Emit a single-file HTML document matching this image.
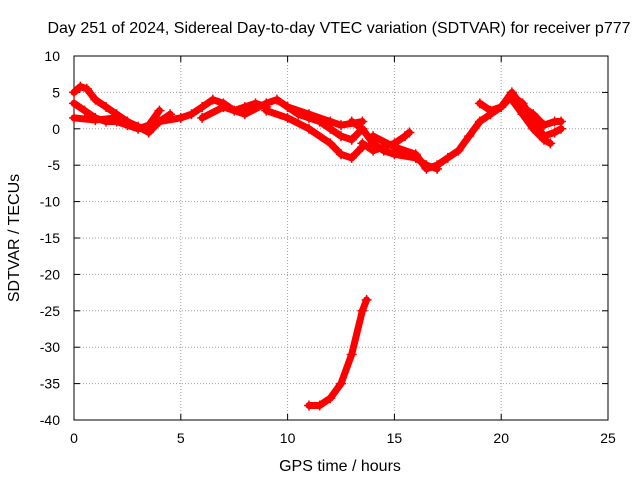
<!DOCTYPE html>
<html><head><meta charset="utf-8"><style>
body{margin:0;background:#fff}
text{font-family:"Liberation Sans",sans-serif;font-size:14px;fill:#000}
text.big{font-size:16px}
</style></head><body>
<svg id="chart" width="640" height="480">
<rect width="640" height="480" fill="#fff"/>
<g id="grid"></g>
<rect x="74" y="56" width="534" height="364" fill="none" stroke="#000" stroke-width="1"/>
<g id="axes"></g>
<g id="series"></g>
<text class="big" x="339" y="33" text-anchor="middle">Day 251 of 2024, Sidereal Day-to-day VTEC variation (SDTVAR) for receiver p777</text>
<text class="big" x="340" y="471" text-anchor="middle">GPS time / hours</text>
<text class="big" transform="translate(19,238) rotate(-90)" text-anchor="middle">SDTVAR / TECUs</text>
</svg>
<script>
const xTicks=[0,5,10,15,20,25];
const yTicks=[10,5,0,-5,-10,-15,-20,-25,-30,-35,-40];
const s1=[[0,5],[0.3,5.8],[0.6,5.5],[1,4],[1.5,3],[2,2],[2.5,1],[3,0.3],[3.5,-0.5],[4,1],[4.5,2]];
const s2=[[0,3.5],[0.5,2.5],[1,1.5],[1.5,1],[2,1],[2.5,0.5],[3,0],[3.5,0.5],[4,2.5]];
const s3=[[0,1.5],[1,1.2],[2,1.5]];
const s4=[[4,1],[5,1.5],[5.5,2],[6,3],[6.5,4],[7,3.5],[7.5,2.5],[8,3],[8.5,3.5],[9,3]];
const s5=[[6,1.5],[7,3],[8,2],[9,3.5],[9.5,4],[10,3],[10.5,2],[11,1.5],[11.5,1],[12,0],[12.5,-1],[13,-1.5],[13.5,0]];
const s6=[[9,2.5],[10,1.5],[11,0],[12,-2],[12.5,-3.5],[13,-4],[13.5,-2.5]];
const s7=[[10,3],[11,2],[12,1],[12.5,0.5],[13.5,1]];
const s8=[[13,1],[13.5,0],[14,-2],[14.5,-3],[15,-3.5],[16,-4],[16.5,-5],[17,-5.5]];
const s9=[[13.5,-2],[14,-3],[15,-2],[15.5,-1],[15.7,-0.5]];
const s10=[[14,-1],[15,-2.5],[16,-3.5],[16.5,-5.5],[17,-5],[17.5,-4],[18,-3],[18.5,-1],[19,1],[19.5,2],[20,3],[20.5,4.5],[21,3.5],[21.5,1],[22,-1],[22.5,-0.5],[22.8,0]];
const s11=[[19,3.5],[19.5,2.5],[20,3],[20.5,5],[21,3],[21.5,2],[22,0.5],[22.5,1],[22.8,1]];
const s12=[[20.5,4],[21,2],[21.5,0],[22,-1.5],[22.3,-2]];
const s13=[[11,-38],[11.5,-38],[12,-37],[12.5,-35],[13,-31],[13.5,-25],[13.7,-23.5]];
const seriesList=[s1,s2,s3,s4,s5,s6,s7,s8,s9,s10,s11,s12,s13];
const X0=74,X1=608,Y0=420,Y1=56;
function xs(v){return X0+(v-0)/(25-0)*(X1-X0);}
function ys(v){return Y0-(v+40)/50*(Y0-Y1);}
const NS="http://www.w3.org/2000/svg";
function mk(tag,attrs,parent){const e=document.createElementNS(NS,tag);for(const k in attrs)e.setAttribute(k,attrs[k]);parent.appendChild(e);return e;}
const grid=document.getElementById('grid'),axes=document.getElementById('axes'),ser=document.getElementById('series');
xTicks.forEach(t=>{const x=xs(t);
 if(t>0&&t<25){const g=mk('line',{x1:x,x2:x,y1:Y1,y2:Y0,stroke:'#a0a0a0','stroke-dasharray':'1,2'},grid);
 
 }
 mk('line',{x1:x,x2:x,y1:Y0,y2:Y0-6,stroke:'#000'},axes);mk('line',{x1:x,x2:x,y1:Y1,y2:Y1+6,stroke:'#000'},axes);
 const l=mk('text',{x:x,y:443,'text-anchor':'middle'},axes);l.textContent=t;
 
 });
yTicks.forEach(t=>{const y=ys(t);
 if(t>-40&&t<10){const g=mk('line',{x1:X0,x2:X1,y1:y,y2:y,stroke:'#a0a0a0','stroke-dasharray':'1,2'},grid);
 
 }
 mk('line',{x1:X0,x2:X0+6,y1:y,y2:y,stroke:'#000'},axes);mk('line',{x1:X1,x2:X1-6,y1:y,y2:y,stroke:'#000'},axes);
 const l=mk('text',{x:60,y:y+5,'text-anchor':'end'},axes);l.textContent=t;
 
 });
seriesList.forEach((s,i)=>{
 const p=mk('polyline',{points:s.map(d=>xs(d[0])+','+ys(d[1])).join(' '),fill:'none',stroke:'#ff0000','stroke-width':7,'stroke-linejoin':'round','stroke-linecap':'round'},ser);
 
 
 s.forEach(d=>{const x=xs(d[0]),y=ys(d[1]);
  const m=mk('path',{d:`M${x-5},${y}H${x+5}M${x},${y-5}V${y+5}`,stroke:'#ff0000','stroke-width':1.5},ser);
  
  });
});
</script>
</body></html>
